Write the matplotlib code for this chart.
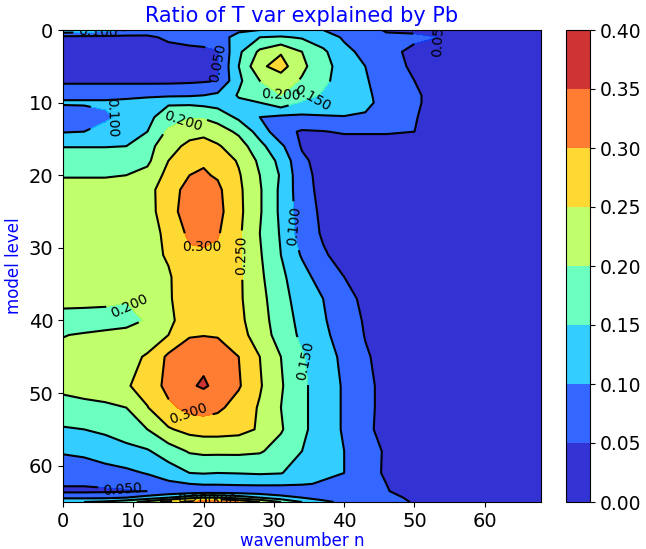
import numpy as np
import matplotlib
matplotlib.use("Agg")
import matplotlib.pyplot as plt

# grid (wavenumber n across, model level down)
wavenumber = [0, 3, 6, 9, 12, 15, 18, 20, 22, 25, 28, 31, 34, 37, 40, 43, 46, 50, 55, 60, 68]
model_level = [0, 1, 3, 5, 7, 9, 10, 12, 14, 16, 18, 20, 22, 25, 28, 31, 34, 37, 40, 42,
               45, 49, 52, 55, 58, 61, 62.5, 63.5, 64.4, 65]

ratio = [
    [.14, .13, .12, .10, .08, .07, .07, .07, .08, .09, .10, .11, .11, .10, .085, .07, .045, .04, .035, .03, .02],
    [.035, .035, .035, .035, .04, .06, .07, .07, .075, .12, .15, .155, .145, .12, .095, .075, .06, .06, .045, .03, .02],
    [.02, .02, .02, .02, .02, .03, .035, .04, .048, .14, .21, .245, .20, .16, .11, .09, .065, .038, .03, .02, .02],
    [.02, .02, .02, .02, .02, .025, .03, .035, .047, .15, .24, .27, .21, .17, .125, .10, .07, .042, .03, .02, .02],
    [.04, .04, .04, .04, .04, .04, .042, .045, .05, .14, .20, .225, .195, .16, .13, .105, .075, .05, .03, .02, .02],
    [.09, .09, .09, .09, .09, .092, .095, .10, .11, .155, .17, .20, .17, .145, .13, .11, .08, .055, .03, .02, .02],
    [.105, .105, .105, .11, .125, .145, .14, .135, .13, .14, .15, .18, .145, .135, .125, .11, .085, .055, .03, .02, .02],
    [.075, .08, .095, .11, .14, .17, .198, .195, .18, .14, .10, .09, .09, .095, .098, .095, .07, .052, .03, .02, .02],
    [.097, .10, .11, .125, .15, .21, .235, .24, .225, .19, .13, .065, .045, .048, .055, .055, .055, .05, .03, .02, .02],
    [.148, .148, .148, .15, .18, .235, .26, .265, .255, .225, .165, .11, .045, .03, .025, .025, .025, .025, .02, .02, .02],
    [.175, .175, .175, .175, .19, .25, .285, .295, .28, .245, .19, .135, .06, .03, .025, .02, .02, .02, .02, .02, .02],
    [.198, .198, .198, .20, .215, .265, .30, .305, .295, .255, .20, .145, .065, .035, .025, .02, .02, .02, .02, .02, .02],
    [.21, .21, .21, .215, .235, .275, .32, .325, .31, .26, .205, .14, .07, .035, .025, .02, .02, .02, .02, .02, .02],
    [.215, .215, .215, .22, .23, .28, .325, .33, .315, .262, .205, .14, .075, .04, .025, .02, .02, .02, .02, .02, .02],
    [.218, .218, .22, .225, .225, .265, .31, .315, .305, .258, .20, .145, .075, .045, .03, .02, .02, .02, .02, .02, .02],
    [.22, .22, .22, .225, .235, .255, .29, .292, .288, .257, .205, .15, .095, .055, .035, .025, .02, .02, .02, .02, .02],
    [.22, .22, .215, .215, .225, .245, .28, .285, .28, .258, .21, .16, .12, .075, .05, .03, .02, .02, .02, .02, .02],
    [.225, .222, .215, .205, .21, .245, .275, .28, .278, .258, .215, .17, .125, .10, .065, .04, .02, .02, .02, .02, .02],
    [.17, .17, .175, .18, .205, .235, .285, .29, .288, .262, .22, .175, .135, .105, .075, .045, .03, .02, .02, .02, .02],
    [.198, .205, .212, .22, .225, .25, .295, .298, .295, .27, .225, .18, .14, .11, .08, .048, .03, .02, .02, .02, .02],
    [.215, .22, .23, .235, .255, .31, .335, .34, .335, .30, .25, .20, .155, .12, .09, .055, .035, .02, .02, .02, .02],
    [.21, .215, .23, .245, .27, .315, .345, .355, .34, .305, .255, .205, .16, .125, .095, .06, .038, .02, .02, .02, .02],
    [.185, .19, .19, .20, .248, .29, .315, .32, .31, .28, .245, .20, .16, .125, .095, .06, .038, .02, .02, .02, .02],
    [.145, .15, .16, .175, .20, .245, .265, .27, .27, .265, .245, .205, .16, .125, .095, .058, .038, .02, .02, .02, .02],
    [.105, .11, .12, .135, .145, .175, .205, .21, .21, .21, .205, .18, .15, .12, .10, .068, .045, .02, .02, .02, .02],
    [.07, .075, .085, .09, .103, .125, .15, .153, .15, .152, .155, .152, .13, .11, .10, .065, .045, .025, .02, .02, .02],
    [.055, .055, .06, .065, .075, .09, .10, .105, .105, .108, .11, .11, .105, .095, .08, .065, .05, .03, .02, .02, .02],
    [.04, .04, .042, .045, .05, .055, .06, .062, .062, .062, .062, .06, .062, .065, .062, .058, .052, .035, .02, .02, .02],
    [.09, .09, .09, .10, .12, .15, .18, .20, .20, .18, .15, .12, .10, .085, .075, .07, .065, .04, .02, .02, .02],
    [.15, .15, .16, .18, .22, .27, .32, .34, .33, .30, .25, .20, .15, .11, .09, .08, .075, .045, .02, .02, .02],
]

clevels = [0.0, 0.05, 0.10, 0.15, 0.20, 0.25, 0.30, 0.35, 0.40]

# where the contour labels sit in the reference
label_spots = [(5, 0.1), (20, 4.5), (54, 1.0), (7.5, 12.5), (17, 12.3), (31, 9.3),
               (35.5, 9.5), (32.5, 27), (19.5, 31), (25.5, 31), (10, 37.5),
               (34.5, 45.5), (17.5, 53.5), (8.5, 63.4), (19, 64.6), (22, 64.7)]

fig = plt.figure(figsize=(6.46, 5.49), dpi=100)
ax = fig.add_axes([63/646, 47/549, 478/646, 472/549])
cax = fig.add_axes([566/646, 47/549, 24/646, 472/549])

cf = ax.contourf(wavenumber, model_level, ratio, levels=clevels, cmap='jet', alpha=0.8)
cs = ax.contour(wavenumber, model_level, ratio, levels=clevels, colors='k', linewidths=1.5)
ax.clabel(cs, fmt='%.3f', fontsize=10, manual=label_spots)

ax.set_xlim(0, 68)
ax.set_ylim(65, 0)
ax.set_xticks([0, 10, 20, 30, 40, 50, 60])
ax.set_yticks([0, 10, 20, 30, 40, 50, 60])
ax.tick_params(labelsize=14)
ax.set_title('Ratio of T var explained by Pb', color='blue', fontsize=15)
ax.set_xlabel('wavenumber n', color='blue', fontsize=12, labelpad=1)
ax.set_ylabel('model level', color='blue', fontsize=12)

cb = fig.colorbar(cf, cax=cax, ticks=clevels, format='%.2f')
cb.ax.tick_params(labelsize=13.5)

fig.savefig('out.png', dpi=100)
